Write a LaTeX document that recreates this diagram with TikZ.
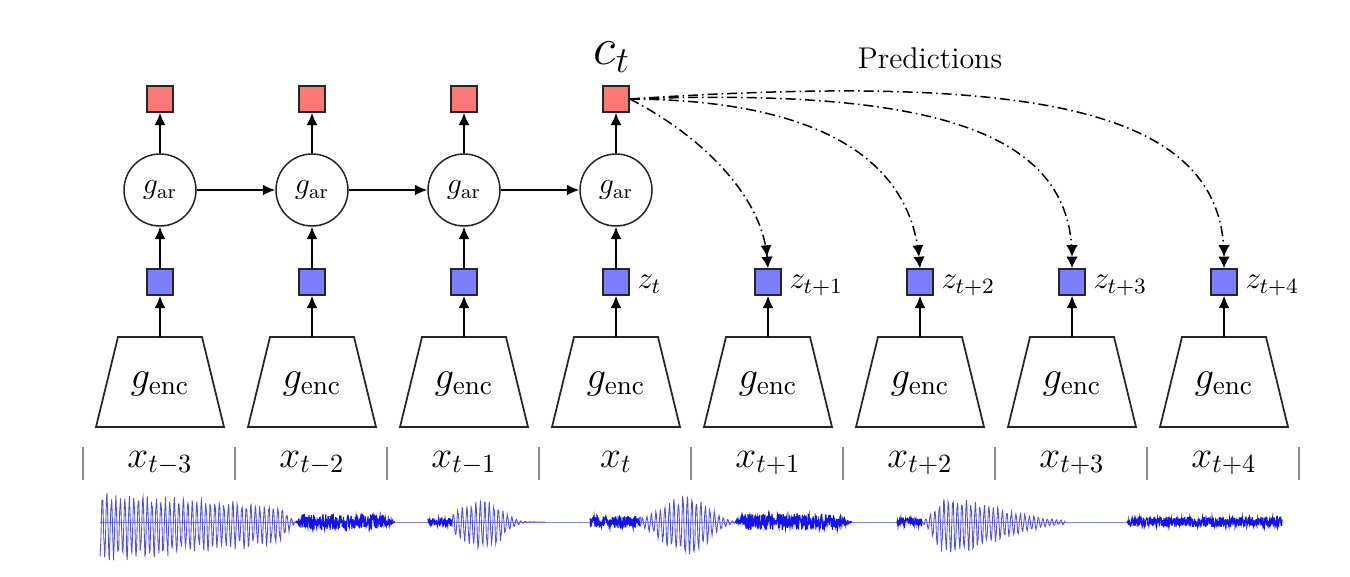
\RequirePackage{fix-cm}
\documentclass[tikz,border=0pt]{standalone}
\usetikzlibrary{arrows.meta}
\definecolor{redfill}{RGB}{255,120,120}
\definecolor{bluefill}{RGB}{125,125,255}
\definecolor{wavecol}{RGB}{20,20,230}
\definecolor{osccol}{RGB}{80,80,225}
\begin{document}
\begin{tikzpicture}[x=0.4pt,y=0.4pt,
 ctx/.style={draw=black!85, fill=redfill, minimum size=10.4pt, inner sep=0pt, line width=0.6pt},
 zsq/.style={draw=black!85, fill=bluefill, minimum size=10.4pt, inner sep=0pt, line width=0.6pt},
 ar/.style={circle, draw=black!85, minimum size=28.8pt, inner sep=0pt, line width=0.6pt, font=\fontsize{12}{14}\selectfont},
 enctext/.style={inner sep=0pt, font=\fontsize{15.5}{18}\selectfont},
 trap/.style={draw=black!85, line width=0.7pt, line join=miter},
 arr/.style={-{Latex[length=5pt,width=4.4pt]}, line width=0.6pt},
 pred/.style={-{Latex[length=4.6pt,width=4.6pt] Latex[length=4.6pt,width=4.6pt]}, line width=0.6pt, dash pattern=on 4pt off 1.6pt on 0.6pt off 1.6pt},
 sep/.style={draw=black!45, line width=0.6pt},
 xlab/.style={font=\fontsize{15}{18}\selectfont, anchor=base, inner sep=0pt},
 zlab/.style={font=\fontsize{12.5}{15}\selectfont, anchor=base west, inner sep=0pt},
 wave/.style={draw=wavecol, line width=0.45pt},
 osc/.style={draw=osccol, line width=0.35pt}]
\useasboundingbox (0,0) rectangle (1350,-577);
\pgfmathsetseed{7}
% encoders, latent squares, inputs
\foreach \i/\lab in {1/t-3,2/t-2,3/t-1,4/t,5/t+1,6/t+2,7/t+3,8/t+4}{
  \pgfmathsetmacro\xc{160+152*(\i-1)}
  \draw[trap] (\xc-64,-427) -- (\xc-42,-337) -- (\xc+42,-337) -- (\xc+64,-427) -- cycle;
  \coordinate (et\i) at (\xc,-337);
  \node[enctext] (e\i) at (\xc,-384) {$g_{\mathrm{enc}}$};
  \node[zsq] (z\i) at (\xc,-282) {};
  \node[xlab] (x\i) at (\xc,-467) {$x_{\lab}$};
  \draw[arr] (et\i) -- (z\i.south);
}
\foreach \i/\lab in {4/t,5/t+1,6/t+2,7/t+3,8/t+4}{
  \pgfmathsetmacro\xc{160+152*(\i-1)}
  \node[zlab] (zl\i) at (\xc+21,-289) {$z_{\lab}$};
}
% separators
\foreach \k in {0,...,8}{
  \draw[sep] (83+152*\k,-447) -- (83+152*\k,-480);
}
% autoregressive part
\foreach \i in {1,...,4}{
  \pgfmathsetmacro\xc{160+152*(\i-1)}
  \node[ar] (g\i) at (\xc,-190) {$g_{\mathrm{ar}}$};
  \node[ctx] (c\i) at (\xc,-99) {};
  \draw[arr] (z\i) -- (g\i);
  \draw[arr] (g\i) -- (c\i);
}
\foreach \i/\j in {1/2,2/3,3/4}{
  \draw[arr] (g\i) -- (g\j);
}
\node[font=\fontsize{21}{24}\selectfont] (ct) at (612,-57) {$c_t$};
\node[font=\fontsize{12}{14}\selectfont] (pr) at (930,-58) {Predictions};
% predictions
\draw[pred] (c4.east) .. controls (700,-135) and (762,-195) .. (z5.north);
\draw[pred] (c4.east) .. controls (820,-100) and (910,-160) .. (z6.north);
\draw[pred] (c4.east) .. controls (930,-88) and (1072,-130) .. (z7.north);
\draw[pred] (c4.east) .. controls (1040,-72) and (1224,-110) .. (z8.north);
% waveform
\draw[osc, draw=osccol!70] (100,-522) -- (1282,-522);
\draw[osc] plot[domain=100:296, samples=420] (\x, {-522 - (36-0.085*(\x-100))*min(1,(296-\x)/16)*(0.8+0.2*rand)*(sin(80*mod(\x,45))+0.15)});
\draw[wave] plot[domain=296:395, samples=320] (\x, {-522 - 8*rand*min(1,(\x-296)/6)*min(1,(395-\x)/15)});
\draw[wave] plot[domain=428:452, samples=80] (\x, {-522 - 4*rand});
\draw[osc] plot[domain=452:545, samples=220] (\x, {-522 - 26*exp(-((\x-488)/ifthenelse(\x<488,45,20))^2)*(0.8+0.2*rand)*(sin(80*mod(\x,45))+0.15)});
\draw[wave] plot[domain=590:640, samples=160] (\x, {-522 - 6*rand});
\draw[osc] plot[domain=640:745, samples=240] (\x, {-522 - 35*exp(-((\x-690)/ifthenelse(\x<690,35,25))^2)*(0.8+0.2*rand)*(sin(80*mod(\x,45))+0.15)});
\draw[wave] plot[domain=735:852, samples=380] (\x, {-522 - 8*rand*min(1,(\x-735)/10)*min(1,(852-\x)/15)});
\draw[wave] plot[domain=897:922, samples=80] (\x, {-522 - 4*rand});
\draw[osc] plot[domain=922:1065, samples=330] (\x, {-522 - 30*exp(-((\x-945)/ifthenelse(\x<945,14,75))^2)*(0.8+0.2*rand)*(sin(80*mod(\x,45))+0.15)});
\draw[wave] plot[domain=1127:1282, samples=500] (\x, {-522 - 5*rand*min(1,(\x-1127)/4)});
\end{tikzpicture}
\end{document}
